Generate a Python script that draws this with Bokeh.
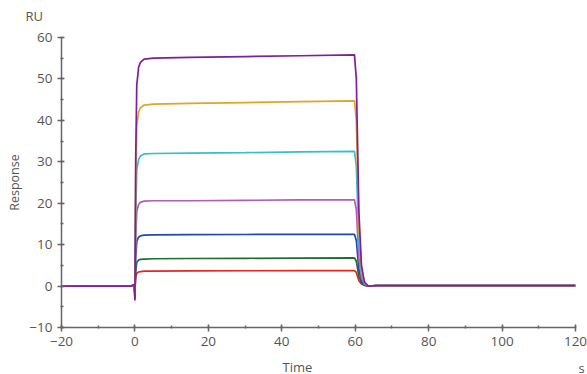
from bokeh.plotting import figure
from bokeh.models import Range1d, SingleIntervalTicker, Label
from bokeh.embed import file_html
from bokeh.resources import INLINE

# ---- data ----
time_s = [-20, -1, -0.2, 0, 0.2, 0.5, 1.0, 1.5, 2.5, 5, 15, 30, 45, 59.8,
          60.3, 61, 61.7, 62.5, 63.5, 66, 80, 100, 120]

curve_red = [0, 0, 0.3, -1.0, 2.0, 3.1, 3.4, 3.5, 3.6, 3.62, 3.65, 3.7, 3.72, 3.75,
             3.3, 1.3, 0.5, 0.2, 0.0, 0.1, 0.1, 0.1, 0.1]
curve_green = [0, 0, 0.3, -1.5, 3.5, 5.7, 6.3, 6.45, 6.5, 6.6, 6.65, 6.7, 6.75, 6.8,
               6.0, 2.3, 0.8, 0.2, 0.0, 0.1, 0.1, 0.1, 0.1]
curve_blue = [0, 0, 0.3, -3.0, 6.5, 10.8, 11.8, 12.1, 12.3, 12.35, 12.4, 12.45, 12.5, 12.5,
              11.0, 4.0, 1.2, 0.3, 0.0, 0.1, 0.1, 0.1, 0.1]
curve_magenta = [0, 0, 0.3, -2.0, 11.0, 18.0, 19.7, 20.2, 20.5, 20.6, 20.6, 20.7, 20.8, 20.8,
                 18.5, 6.8, 2.0, 0.5, 0.0, 0.1, 0.1, 0.1, 0.1]
curve_cyan = [0, 0, 0.3, -2.0, 17.0, 28.0, 30.6, 31.4, 31.9, 32.0, 32.1, 32.2, 32.4, 32.5,
              29.0, 10.5, 3.0, 0.6, 0.0, 0.1, 0.1, 0.1, 0.1]
curve_orange = [0, 0, 0.3, -2.0, 24.0, 38.5, 42.0, 43.0, 43.7, 43.9, 44.1, 44.3, 44.5, 44.7,
                40.0, 14.0, 4.0, 0.8, 0.0, 0.1, 0.1, 0.1, 0.1]
curve_purple = [0, 0, 0.4, -3.5, 30.0, 48.5, 52.8, 54.0, 54.8, 55.0, 55.2, 55.4, 55.6, 55.8,
                50.0, 18.0, 5.0, 1.0, 0.0, 0.1, 0.1, 0.1, 0.1]

series = [curve_red, curve_green, curve_blue, curve_magenta, curve_cyan, curve_orange, curve_purple]
colors = ["#E8261E", "#1E6E2E", "#2547B5", "#B35CB5", "#35C0C8", "#E0A526", "#7E1E9C"]

x_ticks = [-20, 0, 20, 40, 60, 80, 100, 120]
y_ticks = [-10, 0, 10, 20, 30, 40, 50, 60]

FONT = "Open Sans"
TXT = "#555555"
W, H = 587, 374
BL, BR, BT, BB = 61, 12, 37, 47   # borders around the plot frame
FT, FB, FR = BT, H - BB, W - BR   # frame top / bottom / right, canvas pixels

p = figure(width=W, height=H, output_backend="svg", toolbar_location=None,
           x_range=Range1d(-20, 120), y_range=Range1d(-10, 60),
           min_border_left=BL, min_border_right=BR, min_border_top=BT, min_border_bottom=BB)
p.outline_line_color = None
p.grid.visible = False
p.background_fill_color = "white"

for ys, c in zip(series, colors):
    p.line(time_s, ys, line_color=c, line_width=1.7)

for ax, tk in ((p.xaxis[0], 20), (p.yaxis[0], 10)):
    ax.ticker = SingleIntervalTicker(interval=tk, num_minor_ticks=2)
    ax.axis_line_color = "#666666"
    ax.axis_line_width = 1.5
    ax.major_tick_line_color = "#666666"
    ax.major_tick_line_width = 1.5
    ax.minor_tick_line_color = "#666666"
    ax.minor_tick_line_width = 1.5
    ax.major_tick_in = 3
    ax.major_tick_out = 4
    ax.minor_tick_in = 2
    ax.minor_tick_out = 1
    ax.major_label_text_font = FONT
    ax.major_label_text_font_size = "13.5px"
    ax.major_label_text_color = TXT
    ax.major_label_standoff = 5

p.xaxis[0].major_label_overrides = {t: ("\u2212" + str(-t) if t < 0 else str(t)) for t in x_ticks}
p.yaxis[0].major_label_overrides = {t: ("\u2212" + str(-t) if t < 0 else str(t)) for t in y_ticks}

common = dict(x_units="screen", y_units="screen", text_font=FONT, text_color=TXT,
              text_baseline="middle")
# labels live in the side panels; screen units are relative to each panel
p.add_layout(Label(x=25 - BL, y=FT - 15, text="RU", text_font_size="13px", **common), "above")
p.add_layout(Label(x=5, y=FB - 182, text="Response", angle=90, angle_units="deg",
                   text_align="center", text_font_size="12.5px", **common), "left")
p.add_layout(Label(x=297 - BL, y=0, text="Time", text_align="center",
                   text_font_size="13px", **common), "below")
p.add_layout(Label(x=578 - FR, y=FB - 367, text="s", text_font_size="13px", **common), "right")

open("out.html", "w").write(file_html(p, INLINE))
